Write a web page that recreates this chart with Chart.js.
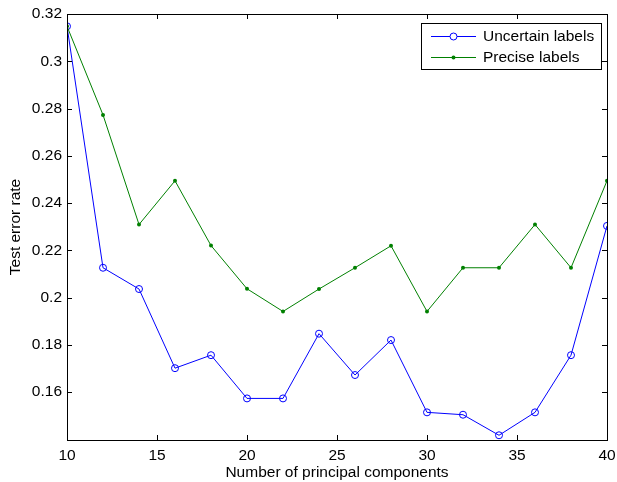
<!DOCTYPE html>
<html lang="en">
<head>
  <meta charset="UTF-8" />
  <title>Test error rate vs principal components</title>
  <script src="https://cdn.jsdelivr.net/npm/chart.js"></script>
  <style>
    * { margin: 0; padding: 0; box-sizing: border-box; }
    body { background: #fff; width: 617px; height: 482px; overflow: hidden; }
    #wrap { width: 617px; height: 482px; }
  </style>
</head>
<body>
<div id="wrap"><canvas id="chart" width="617" height="482"></canvas></div>
<script>
const components = [10, 12, 14, 16, 18, 20, 22, 24, 26, 28, 30, 32, 34, 36, 38, 40];
const uncertainLabels = [0.3148, 0.2126, 0.2036, 0.1701, 0.1756, 0.1573, 0.1573, 0.1847,
                         0.1672, 0.1820, 0.1514, 0.1504, 0.1417, 0.1514, 0.1756, 0.2303];
const preciseLabels = [0.3148, 0.2773, 0.2309, 0.2494, 0.2220, 0.2037, 0.1941, 0.2036,
                       0.2126, 0.2219, 0.1941, 0.2126, 0.2126, 0.2309, 0.2126, 0.2494];
const xTicks = [10, 15, 20, 25, 30, 35, 40];
const yTicks = [0.16, 0.18, 0.2, 0.22, 0.24, 0.26, 0.28, 0.3, 0.32];

const FONT = "'Liberation Sans', Arial, sans-serif";

// frame, inward ticks and legend, MATLAB style
const matlabAxes = {
  id: 'matlabAxes',
  afterDatasetsDraw(chart) {
    const { ctx, chartArea: a, scales } = chart;
    ctx.save();
    ctx.strokeStyle = '#000';
    ctx.lineWidth = 1;
    ctx.beginPath();
    xTicks.forEach(v => {
      const px = Math.round(scales.x.getPixelForValue(v)) + 0.5;
      ctx.moveTo(px, a.bottom); ctx.lineTo(px, a.bottom - 5);
      ctx.moveTo(px, a.top); ctx.lineTo(px, a.top + 5);
    });
    yTicks.forEach(v => {
      const py = Math.round(scales.y.getPixelForValue(v)) + 0.5;
      ctx.moveTo(a.left, py); ctx.lineTo(a.left + 5, py);
      ctx.moveTo(a.right, py); ctx.lineTo(a.right - 5, py);
    });
    ctx.stroke();
    ctx.strokeRect(Math.round(a.left) + 0.5, Math.round(a.top) + 0.5,
                   Math.round(a.right - a.left), Math.round(a.bottom - a.top));

    // legend
    const lx = 421.5, ly = 23.5, lw = 180, lh = 46;
    ctx.fillStyle = '#fff';
    ctx.fillRect(lx, ly, lw, lh);
    ctx.strokeRect(lx, ly, lw, lh);
    const rows = [
      { text: 'Uncertain labels', color: '#0000ff', open: true, y: 36 },
      { text: 'Precise labels', color: '#008000', open: false, y: 57 }
    ];
    ctx.font = '15.5px ' + FONT;
    ctx.textBaseline = 'middle';
    ctx.textAlign = 'left';
    rows.forEach(r => {
      ctx.strokeStyle = r.color;
      ctx.beginPath();
      ctx.moveTo(431, r.y + 0.5); ctx.lineTo(476, r.y + 0.5);
      ctx.stroke();
      ctx.beginPath();
      ctx.arc(453.5, r.y + 0.5, r.open ? 3.5 : 2, 0, Math.PI * 2);
      if (r.open) { ctx.fillStyle = '#fff'; ctx.fill(); ctx.stroke(); }
      else { ctx.fillStyle = r.color; ctx.fill(); }
      ctx.fillStyle = '#000';
      ctx.fillText(r.text, 483, r.y + 1);
    });
    ctx.restore();
  }
};

new Chart(document.getElementById('chart'), {
  type: 'line',
  data: {
    datasets: [
      {
        label: 'Uncertain labels',
        data: components.map((c, i) => ({ x: c, y: uncertainLabels[i] })),
        borderColor: '#0000ff',
        borderWidth: 1,
        pointStyle: 'circle',
        pointRadius: 3.5,
        pointBorderWidth: 1,
        pointBorderColor: '#0000ff',
        pointBackgroundColor: 'rgba(0,0,0,0)',
        tension: 0,
        order: 1
      },
      {
        label: 'Precise labels',
        data: components.map((c, i) => ({ x: c, y: preciseLabels[i] })),
        borderColor: '#008000',
        borderWidth: 1,
        pointRadius: 2,
        pointBorderWidth: 0,
        pointBackgroundColor: '#008000',
        tension: 0,
        order: 0
      }
    ]
  },
  options: {
    responsive: false,
    animation: false,
    devicePixelRatio: 1,
    layout: { padding: { top: 14, right: 10, left: 0, bottom: 0 } },
    plugins: { legend: { display: false }, tooltip: { enabled: false } },
    scales: {
      x: {
        type: 'linear',
        min: 10, max: 40,
        afterFit: s => { s.height = 42; s.paddingLeft = 0; s.paddingRight = 0; },
        afterBuildTicks: s => { s.ticks = xTicks.map(v => ({ value: v })); },
        grid: { display: false, drawTicks: false },
        border: { display: false },
        ticks: { color: '#000', padding: 6, font: { family: FONT, size: 15.5 }, maxRotation: 0 },
        title: {
          display: true, text: 'Number of principal components', color: '#000',
          font: { family: FONT, size: 15.5 }, padding: { top: 0, bottom: 0 }
        }
      },
      y: {
        min: 0.1397, max: 0.32,
        afterFit: s => { s.width = 67; s.paddingTop = 0; s.paddingBottom = 0; },
        afterBuildTicks: s => { s.ticks = yTicks.map(v => ({ value: v })); },
        grid: { display: false, drawTicks: false },
        border: { display: false },
        ticks: {
          color: '#000', padding: 5, font: { family: FONT, size: 15.5 },
          callback: v => String(+v.toFixed(2))
        },
        title: {
          display: true, text: 'Test error rate', color: '#000',
          font: { family: FONT, size: 15.5 }, padding: { top: 6, bottom: 0 }
        }
      }
    }
  },
  plugins: [matlabAxes]
});
</script>
</body>
</html>
